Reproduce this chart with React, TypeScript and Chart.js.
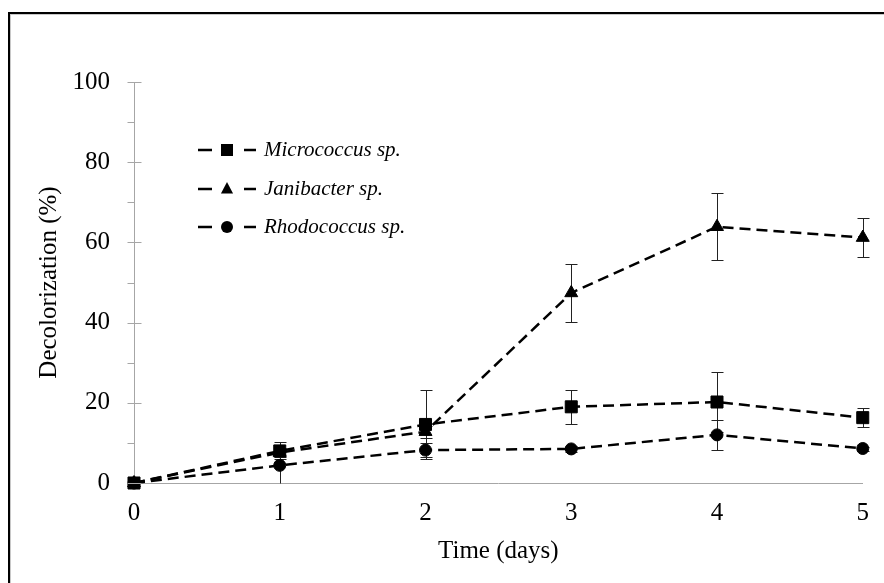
import React, { useEffect, useRef } from 'react';
import { Chart, registerables } from 'chart.js';

Chart.register(...registerables);

// ---- Data ----
const days = [0, 1, 2, 3, 4, 5];
const seriesNames = ['Micrococcus sp.', 'Janibacter sp.', 'Rhodococcus sp.'];
const micrococcus = [0, 8.0, 14.6, 19.0, 20.2, 16.3];
const micrococcusErr = [0, 2.1, 8.6, 4.2, 7.5, 2.3];
const janibacter = [0, 7.6, 12.8, 47.4, 63.9, 61.2];
const janibacterErr = [0, 1.0, 1.5, 7.3, 8.4, 4.9];
const rhodococcus = [0, 4.4, 8.2, 8.5, 12.0, 8.6];
const rhodococcusErr = [0, 4.4, 1.7, 0.8, 3.7, 0.5];
const yMajorTicks = [0, 20, 40, 60, 80, 100];
const yMinorTicks = [10, 30, 50, 70, 90];
const xTitle = 'Time (days)';
const yTitle = 'Decolorization (%)';

const FONT = "'Liberation Serif', 'Times New Roman', serif";
const AXIS_GRAY = '#a6a6a6';

const seriesValues = [micrococcus, janibacter, rhodococcus];
const seriesErrors = [micrococcusErr, janibacterErr, rhodococcusErr];
const pointStyles = ['rect', 'triangle', 'circle'];
const pointRadii = [8.5, 7.5, 6];

function drawMarker(ctx: CanvasRenderingContext2D, style: string, x: number, y: number) {
  ctx.beginPath();
  if (style === 'rect') {
    ctx.rect(x - 6, y - 6, 12, 12);
  } else if (style === 'triangle') {
    const r = 7;
    ctx.moveTo(x, y - r);
    ctx.lineTo(x + r * 0.866, y + r * 0.5 + 1);
    ctx.lineTo(x - r * 0.866, y + r * 0.5 + 1);
    ctx.closePath();
  } else {
    ctx.arc(x, y, 6, 0, Math.PI * 2);
  }
  ctx.fill();
}

const errorBarsPlugin = {
  id: 'errorBars',
  beforeDatasetsDraw(chart: any) {
    const ctx = chart.ctx;
    const xs = chart.scales.x;
    const ys = chart.scales.y;
    ctx.save();
    ctx.strokeStyle = '#222';
    ctx.lineWidth = 1;
    ctx.setLineDash([]);
    seriesValues.forEach((vals, si) => {
      const errs = seriesErrors[si];
      vals.forEach((v, i) => {
        const e = errs[i];
        if (!e) return;
        const px = Math.round(xs.getPixelForValue(days[i])) + 0.5;
        const top = Math.round(ys.getPixelForValue(v + e)) + 0.5;
        const bot = Math.round(ys.getPixelForValue(Math.max(0, v - e))) + 0.5;
        ctx.beginPath();
        ctx.moveTo(px, top);
        ctx.lineTo(px, bot);
        ctx.moveTo(px - 6, top);
        ctx.lineTo(px + 6, top);
        if (v - e > 0) {
          ctx.moveTo(px - 6, bot);
          ctx.lineTo(px + 6, bot);
        }
        ctx.stroke();
      });
    });
    ctx.restore();
  },
};

const yTickMarksPlugin = {
  id: 'yTickMarks',
  afterDraw(chart: any) {
    const ctx = chart.ctx;
    const ys = chart.scales.y;
    const x0 = Math.round(chart.chartArea.left) + 0.5;
    ctx.save();
    ctx.strokeStyle = AXIS_GRAY;
    ctx.lineWidth = 1;
    ctx.beginPath();
    yMajorTicks.forEach((v) => {
      const py = Math.round(ys.getPixelForValue(v)) + 0.5;
      ctx.moveTo(x0 - 7, py);
      ctx.lineTo(x0 + 7, py);
    });
    yMinorTicks.forEach((v) => {
      const py = Math.round(ys.getPixelForValue(v)) + 0.5;
      ctx.moveTo(x0 - 7, py);
      ctx.lineTo(x0, py);
    });
    ctx.stroke();
    ctx.restore();
  },
};

const legendPlugin = {
  id: 'customLegend',
  afterDraw(chart: any) {
    const ctx = chart.ctx;
    const rows = [150, 189, 227];
    ctx.save();
    seriesNames.forEach((name, i) => {
      const y = rows[i];
      ctx.strokeStyle = '#000';
      ctx.fillStyle = '#000';
      ctx.lineWidth = 2.5;
      ctx.setLineDash([]);
      ctx.beginPath();
      ctx.moveTo(198, y);
      ctx.lineTo(212, y);
      ctx.moveTo(244, y);
      ctx.lineTo(256, y);
      ctx.stroke();
      drawMarker(ctx, pointStyles[i], 227, y);
      ctx.font = `italic 21px ${FONT}`;
      ctx.textAlign = 'left';
      ctx.textBaseline = 'middle';
      ctx.fillText(name, 264, y);
    });
    ctx.restore();
  },
};

export default function App() {
  const canvasRef = useRef<HTMLCanvasElement | null>(null);

  useEffect(() => {
    document.body.style.overflow = 'hidden';
    const canvas = canvasRef.current;
    if (!canvas) return;
    const datasets = seriesNames.map((name, si) => ({
      label: name,
      data: days.map((d, i) => ({ x: d, y: seriesValues[si][i] })),
      borderColor: '#000',
      backgroundColor: '#000',
      borderWidth: 2.5,
      borderDash: [11, 6],
      tension: 0,
      clip: false as any,
      pointStyle: pointStyles[si] as any,
      pointRadius: pointRadii[si],
      pointBackgroundColor: '#000',
      pointBorderColor: '#000',
      pointBorderWidth: 1,
      fill: false,
    }));

    const chart = new Chart(canvas, {
      type: 'line',
      data: { datasets },
      options: {
        responsive: false,
        animation: false,
        layout: { padding: { left: 0, top: 82, right: 18, bottom: 0 } },
        plugins: {
          legend: { display: false },
          tooltip: { enabled: false },
        },
        scales: {
          x: {
            type: 'linear',
            min: 0,
            max: 5,
            afterFit: (s: any) => {
              s.height = 100;
            },
            ticks: {
              stepSize: 1,
              color: '#000',
              padding: 15,
              font: { family: FONT, size: 25 },
            },
            grid: { display: false, drawTicks: false },
            border: { display: true, color: AXIS_GRAY, width: 1 },
            title: {
              display: true,
              text: xTitle,
              color: '#000',
              font: { family: FONT, size: 25 },
              padding: { top: 0, bottom: 17 },
            },
          },
          y: {
            type: 'linear',
            min: 0,
            max: 100,
            afterFit: (s: any) => {
              s.width = 134;
            },
            ticks: {
              stepSize: 20,
              color: '#000',
              padding: 24,
              font: { family: FONT, size: 25 },
            },
            grid: { display: false, drawTicks: false },
            border: { display: true, color: AXIS_GRAY, width: 1 },
            title: {
              display: true,
              text: yTitle,
              color: '#000',
              font: { family: FONT, size: 25 },
              padding: { top: 34, bottom: 0 },
            },
          },
        },
      },
      plugins: [errorBarsPlugin, yTickMarksPlugin, legendPlugin],
    });
    return () => chart.destroy();
  }, []);

  return (
    <>
      <div
        style={{
          position: 'absolute',
          left: 8,
          top: 12,
          width: 876,
          height: 571,
          boxSizing: 'border-box',
          borderTop: '2px solid #000',
          borderLeft: '2px solid #000',
          boxShadow: 'inset 1px 1px 0 #c8c8c8',
          background: '#fff',
        }}
      />
      <canvas
        ref={canvasRef}
        width={884}
        height={583}
        style={{ position: 'absolute', left: 0, top: 0, width: 884, height: 583 }}
      />
    </>
  );
}
